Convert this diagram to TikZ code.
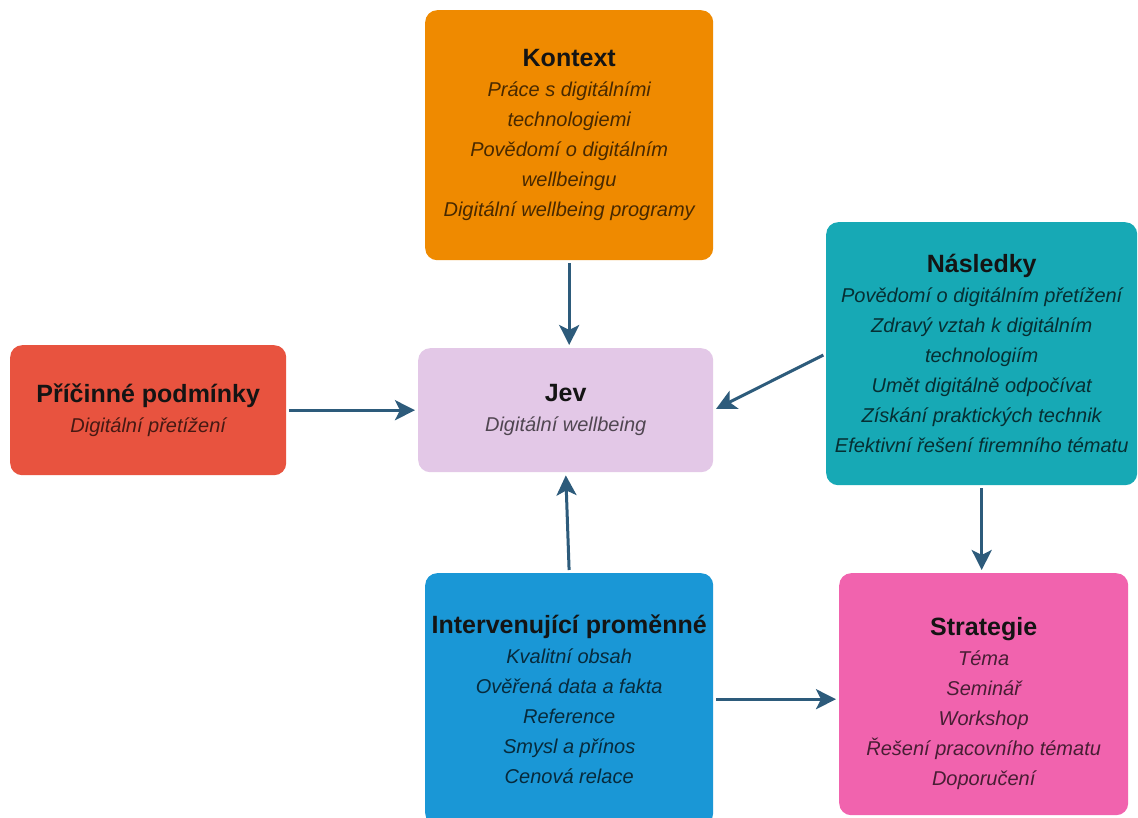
\documentclass[tikz,border=0pt]{standalone}
\usepackage{fontspec}
\setmainfont{Liberation Sans}
\usetikzlibrary{arrows.meta}
\definecolor{corange}{HTML}{EF8A00}
\definecolor{cteal}{HTML}{17A9B5}
\definecolor{cred}{HTML}{E8533F}
\definecolor{clav}{HTML}{E3C8E7}
\definecolor{cblue}{HTML}{1A97D6}
\definecolor{cpink}{HTML}{F163AE}
\definecolor{carrow}{HTML}{2D5B7B}
\newcommand{\ttl}[1]{{\fontsize{25}{30}\selectfont\bfseries\upshape #1}}
\tikzset{
  box/.style={rounded corners=12pt, anchor=north west, inner sep=0pt, align=center,
    font=\fontsize{20}{30}\selectfont\itshape, draw=none},
  conn/.style={draw=carrow, line width=3pt, -{Stealth[length=20pt,width=20pt,inset=5pt]},
    shorten <=3pt, shorten >=3pt}
}
\begin{document}
\begin{tikzpicture}[x=1pt,y=-1pt]
\useasboundingbox[fill=white] (0,0) rectangle (1138,818);
\node[box, fill=corange, minimum width=288pt, minimum height=250pt, text=black!70!corange] (kontext) at (425,10)
  {\textcolor{black!92}{\ttl{Kontext}}\\Práce s digitálními\\technologiemi\\Povědomí o digitálním\\wellbeingu\\Digitální wellbeing programy};
\node[box, fill=cteal, minimum width=311pt, minimum height=263pt, text=black!72!cteal] (nasl) at (826,222)
  {\textcolor{black!92}{\ttl{Následky}}\\Povědomí o digitálním přetížení\\Zdravý vztah k digitálním\\technologiím\\Umět digitálně odpočívat\\Získání praktických technik\\Efektivní řešení firemního tématu};
\node[box, fill=cred, minimum width=276pt, minimum height=130pt, text=black!70!cred] (pric) at (10,345)
  {\textcolor{black!92}{\ttl{Příčinné podmínky}}\\Digitální přetížení};
\node[box, fill=clav, minimum width=295pt, minimum height=124pt, text=black!65!clav] (jev) at (418,348)
  {\textcolor{black!92}{\ttl{Jev}}\\Digitální wellbeing};
\node[box, fill=cblue, minimum width=288pt, minimum height=252pt, text=black!72!cblue] (interv) at (425,573)
  {\textcolor{black!92}{\ttl{Intervenující proměnné}}\\Kvalitní obsah\\Ověřená data a fakta\\Reference\\Smysl a přínos\\Cenová relace};
\node[box, fill=cpink, minimum width=289pt, minimum height=242pt, text=black!70!cpink] (strat) at (839,573)
  {\vphantom{}\\[6pt]\textcolor{black!92}{\ttl{Strategie}}\\Téma\\Seminář\\Workshop\\Řešení pracovního tématu\\Doporučení};
\draw[conn] (kontext.south) -- (kontext.south |- jev.north);
\draw[conn] (pric.east) -- (jev.west);
\draw[conn] (nasl.west) -- (jev.east);
\draw[conn] (interv.north) -- (jev.south);
\draw[conn] (interv.east) -- (strat.west |- interv.east);
\draw[conn] (nasl.south) -- (nasl.south |- strat.north);
\end{tikzpicture}
\end{document}
